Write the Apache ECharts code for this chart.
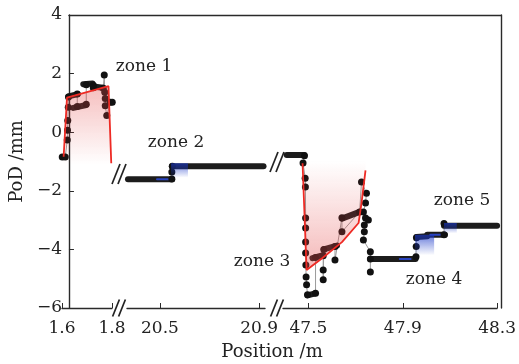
<!DOCTYPE html>
<html>
<head>
<meta charset="utf-8">
<script src="https://cdn.jsdelivr.net/npm/echarts@6/dist/echarts.min.js"></script>
<style>
  html, body { margin: 0; padding: 0; background: #fff; }
  #chart { width: 519px; height: 364px; }
</style>
</head>
<body>
<div id="chart"></div>
<script>
// axis ranges of the three broken pieces and their tick labels
const xRangeA = [1.6, 1.8];
const xRangeB = [20.367, 20.924];
const xRangeC = [47.392, 48.3];
const xTicksA = [1.6, 1.8];
const xTicksB = [20.5, 20.9];
const xTicksC = [47.5, 47.9, 48.3];
const yRange = [-6, 4];

// zone 1
const zone1Dots = [[1.601,-0.85],[1.613,-0.85],[1.621,-0.27],[1.622,0.07],[1.623,0.4],[1.625,0.85],[1.626,1.2],
  [1.661,1.3],[1.661,0.88],[1.697,0.95],[1.697,1.62],[1.725,1.6],[1.725,1.52],[1.765,1.5],[1.769,1.95],
  [1.771,1.36],[1.773,1.15],[1.773,0.9],[1.779,0.57],[1.793,1.02],[1.801,1.02]];
const zone1Bands = [
  [[1.626,1.22],[1.663,1.3]],
  [[1.645,0.83],[1.697,0.93]],
  [[1.685,1.64],[1.722,1.66]],
  [[1.725,1.56],[1.764,1.52]]
];
const zone1Red = [[1.6065,-0.84],[1.62,1.18],[1.786,1.57],[1.797,-1.06]];

// zone 2
const zone2Dots = [[20.548,-1.6],[20.548,-1.36],[20.55,-1.16]];
const zone2Bands = [
  [[20.371,-1.61],[20.549,-1.61]],
  [[20.548,-1.16],[20.918,-1.16]]
];
const zone2Blue = [[[20.545,-1.06],[20.613,-1.06]]];
const zone2BlueLine = [[[20.488,-1.61],[20.545,-1.61]]];

// zone 3
const zone3Dots = [[47.483,-0.8],[47.477,-1.05],[47.486,-1.57],[47.487,-1.87],[47.488,-2.93],[47.488,-3.27],
  [47.488,-3.75],[47.488,-4.12],[47.489,-4.53],[47.49,-4.94],[47.492,-5.21],[47.496,-5.55],[47.53,-5.5],
  [47.53,-4.28],[47.5625,-4.22],[47.5625,-4.7],[47.5625,-5.04],[47.565,-4.0],[47.6125,-3.9],[47.6125,-4.36],
  [47.642,-2.92],[47.642,-3.4],[47.717,-2.72],[47.725,-1.7],[47.746,-2.08],[47.742,-2.42],[47.733,-2.72],
  [47.742,-2.93],[47.754,-3.0],[47.737,-3.17],[47.737,-3.4],[47.733,-3.68],[47.7625,-4.08],[47.7625,-4.33],
  [47.7625,-4.77]];
const zone3Bands = [
  [[47.408,-0.78],[47.483,-0.78]],
  [[47.496,-5.57],[47.529,-5.5]],
  [[47.517,-4.3],[47.5625,-4.2]],
  [[47.565,-4.0],[47.621,-3.87]],
  [[47.642,-2.95],[47.717,-2.72]]
];
const zone3Red = [[47.475,-1.06],[47.492,-4.7],[47.558,-4.3],[47.642,-3.75],[47.7125,-3.1],[47.725,-2.42],[47.742,-1.3]];

// zones 4 and 5
const zone45Dots = [[47.956,-4.25],[47.957,-3.9],[47.958,-3.6],[48.075,-3.5],[48.075,-3.12]];
const zone45Bands = [
  [[47.7625,-4.33],[47.954,-4.33]],
  [[47.958,-3.58],[48.004,-3.55]],
  [[48.004,-3.5],[48.079,-3.5]],
  [[48.075,-3.19],[48.3,-3.19]]
];
const zone45Blue = [[[47.952,-3.5],[48.033,-3.5]], [[48.075,-3.1],[48.129,-3.1]]];
const zone45BlueBase = [-4.2, -3.45];
const zone45BlueLine = [[[47.8875,-4.33],[47.933,-4.33]], [[48.017,-3.5],[48.075,-3.5]]];

const zoneLabels = [
  {text: 'zone 1', x: 144, y: 67},
  {text: 'zone 2', x: 176, y: 143},
  {text: 'zone 3', x: 262, y: 262},
  {text: 'zone 4', x: 434, y: 280},
  {text: 'zone 5', x: 462, y: 201}
];

const FONT = 'DejaVu Serif';
const AXIS = '#2a2a2a';
const INK = '#1c1c1c';

function subX(idx, range, ticks) {
  return {
    type: 'value', gridIndex: idx, min: range[0], max: range[1], position: 'bottom',
    axisLine: {show: true, onZero: false, lineStyle: {color: AXIS, width: 1.4}},
    axisTick: {show: true, inside: true, length: 5, customValues: ticks, lineStyle: {color: AXIS}},
    axisLabel: {customValues: ticks, formatter: v => v.toFixed(1), fontFamily: FONT, fontSize: 17, color: '#222', margin: 12},
    splitLine: {show: false}
  };
}
function subY(idx) {
  return {type: 'value', gridIndex: idx, min: yRange[0], max: yRange[1], show: false};
}
function dotSeries(data, idx) {
  return {
    type: 'line', xAxisIndex: idx, yAxisIndex: idx, data: data, clip: false, silent: true,
    symbol: 'circle', symbolSize: 7, showAllSymbol: true,
    itemStyle: {color: '#111'}, lineStyle: {color: '#9a9a9a', width: 1}, z: 2
  };
}
function bandSeries(segs, idx, color, width) {
  return segs.map(seg => ({
    type: 'line', xAxisIndex: idx, yAxisIndex: idx, data: seg, clip: false, silent: true,
    symbol: 'none', lineStyle: {color: color, width: width, cap: 'round'}, z: 2
  }));
}
function blueSeries(segs, idx, bases) {
  return segs.map((seg, i) => ({
    type: 'line', xAxisIndex: idx, yAxisIndex: idx, data: seg, clip: false, silent: true,
    symbol: 'none', lineStyle: {width: 0},
    areaStyle: {origin: bases[i], color: new echarts.graphic.LinearGradient(0, 0, 0, 1, [
      {offset: 0, color: 'rgba(25,55,200,0.95)'}, {offset: 1, color: 'rgba(25,55,200,0)'}])},
    z: 3
  }));
}
function redSeries(data, idx, base, topColor, bottomColor) {
  return {
    type: 'line', xAxisIndex: idx, yAxisIndex: idx, data: data, clip: false, silent: true,
    symbol: 'none', lineStyle: {color: '#ee2a24', width: 1.8},
    areaStyle: {origin: base, color: new echarts.graphic.LinearGradient(0, 0, 0, 1, [
      {offset: 0, color: topColor}, {offset: 1, color: bottomColor}])},
    z: 4
  };
}
function slashes(cx, cy, h) {
  const dx = h * 0.2;
  return [-3, 3].map(o => ({
    type: 'line', silent: true,
    shape: {x1: cx + o - dx, y1: cy + h / 2, x2: cx + o + dx, y2: cy - h / 2},
    style: {stroke: '#222', lineWidth: 1.7}
  }));
}

const option = {
  animation: false,
  grid: [
    {left: 62, top: 15, width: 50, height: 293},
    {left: 127, top: 15, width: 138, height: 293},
    {left: 283, top: 15, width: 218, height: 293},
    {left: 62, top: 15, width: 439, height: 293}
  ],
  xAxis: [
    subX(0, xRangeA, xTicksA),
    subX(1, xRangeB, xTicksB),
    subX(2, xRangeC, xTicksC),
    {type: 'value', gridIndex: 3, position: 'top', min: 0, max: 1,
     axisLine: {show: true, onZero: false, lineStyle: {color: AXIS, width: 1.4}},
     axisTick: {show: false}, axisLabel: {show: false}, splitLine: {show: false}}
  ],
  yAxis: [
    subY(0), subY(1), subY(2),
    {type: 'value', gridIndex: 3, position: 'left', min: yRange[0], max: yRange[1], interval: 2,
     name: 'PoD /mm', nameLocation: 'middle', nameGap: 37,
     nameTextStyle: {fontFamily: FONT, fontSize: 18, color: '#222'},
     axisLine: {show: true, onZero: false, lineStyle: {color: AXIS, width: 1.4}},
     axisTick: {show: true, inside: true, length: 5, lineStyle: {color: AXIS}},
     axisLabel: {formatter: v => String(v).replace('-', '\u2212'), fontFamily: FONT, fontSize: 17, color: '#222', margin: 7},
     splitLine: {show: false}},
    {type: 'value', gridIndex: 3, position: 'right', min: yRange[0], max: yRange[1],
     axisLine: {show: true, onZero: false, lineStyle: {color: AXIS, width: 1.4}},
     axisTick: {show: false}, axisLabel: {show: false}, splitLine: {show: false}}
  ],
  graphic: [
    ...slashes(119, 308, 17),
    ...slashes(277, 308, 17),
    ...slashes(119, 174, 20),
    ...slashes(277, 162, 20),
    {type: 'text', silent: true,
     style: {text: 'Position /m', x: 272, y: 352, align: 'center', verticalAlign: 'middle', font: '18px "DejaVu Serif"', fill: '#222'}},
    ...zoneLabels.map(z => ({type: 'text', silent: true,
     style: {text: z.text, x: z.x, y: z.y, align: 'center', verticalAlign: 'middle', font: '17px "DejaVu Serif"', fill: '#222'}}))
  ],
  series: [
    dotSeries(zone1Dots, 0),
    ...bandSeries(zone1Bands, 0, INK, 6),
    redSeries(zone1Red, 0, -1.1, 'rgba(228,70,70,0.5)', 'rgba(228,70,70,0)'),

    dotSeries(zone2Dots, 1),
    ...bandSeries(zone2Bands, 1, INK, 6),
    ...blueSeries(zone2Blue, 1, [-1.55]),
    ...bandSeries(zone2BlueLine, 1, '#2a44c0', 2),

    dotSeries(zone3Dots, 2),
    ...bandSeries(zone3Bands, 2, INK, 6),
    redSeries(zone3Red, 2, -0.98, 'rgba(228,70,70,0)', 'rgba(228,70,70,0.55)'),

    dotSeries(zone45Dots, 2),
    ...bandSeries(zone45Bands, 2, INK, 6),
    ...blueSeries(zone45Blue, 2, zone45BlueBase),
    ...bandSeries(zone45BlueLine, 2, '#2a44c0', 2)
  ]
};

const chart = echarts.init(document.getElementById('chart'), null, {renderer: 'canvas'});
chart.setOption(option);
</script>
</body>
</html>
